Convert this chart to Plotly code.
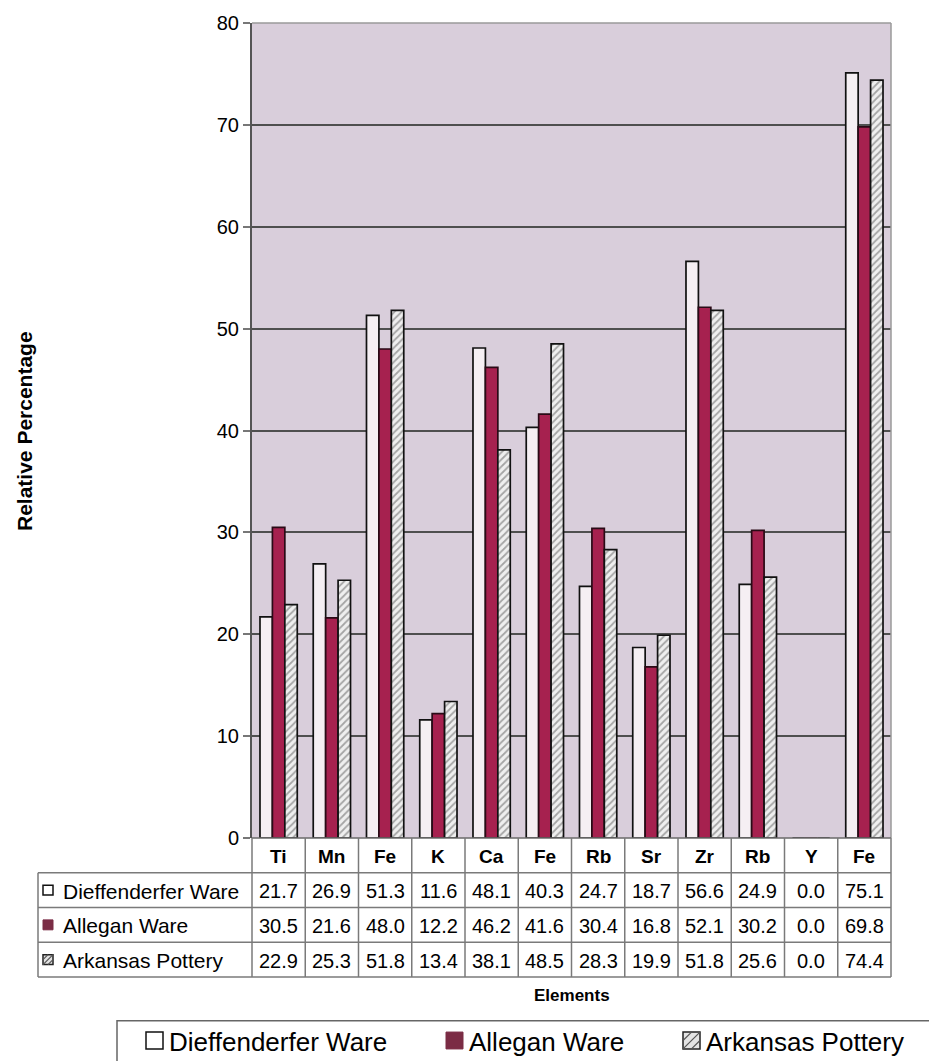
import plotly.graph_objects as go

# Element categories (Fe and Rb appear more than once) and relative percentages
elements = ["Ti", "Mn", "Fe", "K", "Ca", "Fe", "Rb", "Sr", "Zr", "Rb", "Y", "Fe"]
dieffenderfer = [21.7, 26.9, 51.3, 11.6, 48.1, 40.3, 24.7, 18.7, 56.6, 24.9, 0.0, 75.1]
allegan = [30.5, 21.6, 48.0, 12.2, 46.2, 41.6, 30.4, 16.8, 52.1, 30.2, 0.0, 69.8]
arkansas = [22.9, 25.3, 51.8, 13.4, 38.1, 48.5, 28.3, 19.9, 51.8, 25.6, 0.0, 74.4]
series_names = ["Dieffenderfer Ware", "Allegan Ware", "Arkansas Pottery"]
y_ticks = [0, 10, 20, 30, 40, 50, 60, 70, 80]

W, H = 929, 1061
ML, MR, MT, MB = 252, 38, 17, 223
PW, PH = W - ML - MR, H - MT - MB
FONT = "Liberation Sans, Arial, sans-serif"

BG = "#d9cedb"
CRIMSON = "#a6214f"
MAROON = "#7b2c45"
WHITE_BAR = "#f5eff3"
GRID = "#4f4f4f"
TABLE_LINE = "#7a7a7a"
INK = "#000000"

x_idx = list(range(len(elements)))
x_min, x_max = -0.5, len(elements) - 0.5


def px_x(p):
    """Horizontal pixel position -> paper coordinate."""
    return (p - ML) / PW


def px_y(p):
    """Vertical pixel position (from top) -> paper coordinate."""
    return (H - MB - p) / PH


def cat_x(v):
    """Category axis value -> paper coordinate."""
    return (v - x_min) / (x_max - x_min)


def label(x, y, text, size, xanchor="center", **kw):
    return dict(x=x, y=y, xref="paper", yref="paper", text=text, showarrow=False,
                xanchor=xanchor, yanchor="middle",
                font=dict(family=FONT, size=size, color=INK), **kw)


fig = go.Figure()
fig.add_bar(x=x_idx, y=dieffenderfer, name=series_names[0],
            marker=dict(color=WHITE_BAR, line=dict(color="#111", width=1.7)))
fig.add_bar(x=x_idx, y=allegan, name=series_names[1],
            marker=dict(color=CRIMSON, line=dict(color="#2a0a16", width=1.7)))
fig.add_bar(x=x_idx, y=arkansas, name=series_names[2],
            marker=dict(color="#ececec", line=dict(color="#111", width=1.7),
                        pattern=dict(shape="/", fgcolor="#5a5a5a", bgcolor="#efefef",
                                     size=5, solidity=0.35)))

shapes = []
annotations = []

# plot frame: light top/right border
shapes.append(dict(type="line", xref="paper", yref="paper", x0=0, x1=1, y0=1, y1=1,
                   line=dict(color="#9a9a9a", width=1.5)))
shapes.append(dict(type="line", xref="paper", yref="paper", x0=1, x1=1, y0=0, y1=1,
                   line=dict(color="#9a9a9a", width=1.5)))

# data table below the axis
row_edges = [838, 873, 908, 943, 978]
label_left = 38
shapes.append(dict(type="line", xref="paper", yref="paper", x0=0, x1=1,
                   y0=px_y(row_edges[0]), y1=px_y(row_edges[0]),
                   line=dict(color="#6a6a6a", width=1.5)))
for r in row_edges[1:]:
    shapes.append(dict(type="line", xref="paper", yref="paper",
                       x0=px_x(label_left), x1=1, y0=px_y(r), y1=px_y(r),
                       line=dict(color=TABLE_LINE, width=1.5)))
for i in range(len(elements) + 1):
    xb = cat_x(i - 0.5)
    shapes.append(dict(type="line", xref="paper", yref="paper", x0=xb, x1=xb,
                       y0=px_y(row_edges[0]), y1=px_y(row_edges[-1]),
                       line=dict(color=TABLE_LINE, width=1.5)))
shapes.append(dict(type="line", xref="paper", yref="paper",
                   x0=px_x(label_left), x1=px_x(label_left),
                   y0=px_y(row_edges[1]), y1=px_y(row_edges[-1]),
                   line=dict(color=TABLE_LINE, width=1.5)))

# header row: element names
hdr_y = px_y((row_edges[0] + row_edges[1]) / 2 + 1)
for i, el in enumerate(elements):
    annotations.append(label(cat_x(i), hdr_y, f"<b>{el}</b>", 19))

key_styles = [
    dict(fillcolor="#ffffff", line=dict(color="#111", width=1.5)),
    dict(fillcolor=MAROON, line=dict(color=MAROON, width=1)),
    dict(fillcolor="#e4e4e4", line=dict(color="#222", width=1.5)),
]


def add_key(k, left, cy, size):
    """Series key square; the hatched series gets diagonal strokes."""
    x0, x1 = px_x(left), px_x(left + size)
    y0, y1 = px_y(cy + size / 2), px_y(cy - size / 2)
    shapes.append(dict(type="rect", xref="paper", yref="paper",
                       x0=x0, x1=x1, y0=y0, y1=y1, **key_styles[k]))
    if k == 2:
        for t in (-0.5, 0.0, 0.5):
            ax, ay = max(0.0, t), max(0.0, -t)
            bx, by = min(1.0, 1 + t), min(1.0, 1 - t)
            shapes.append(dict(type="line", xref="paper", yref="paper",
                               x0=x0 + ax * (x1 - x0), y0=y0 + ay * (y1 - y0),
                               x1=x0 + bx * (x1 - x0), y1=y0 + by * (y1 - y0),
                               line=dict(color="#555", width=1.2)))


# series rows
for r, (name, vals) in enumerate(zip(series_names, [dieffenderfer, allegan, arkansas])):
    top, bot = row_edges[r + 1], row_edges[r + 2]
    cy = (top + bot) / 2
    add_key(r, 43, cy, 10)
    annotations.append(label(px_x(61), px_y(cy + 1), name, 21, xanchor="left"))
    for i, v in enumerate(vals):
        annotations.append(label(cat_x(i), px_y(cy + 1), f"{v:.1f}", 20))

# axis titles
annotations.append(label(cat_x((x_min + x_max) / 2), px_y(997), "<b>Elements</b>", 17))
annotations.append(label(px_x(25), px_y(428), "<b>Relative Percentage</b>", 21, textangle=-90))

# legend box along the bottom
shapes.append(dict(type="rect", xref="paper", yref="paper",
                   x0=px_x(117), x1=px_x(W + 20), y0=px_y(H + 20), y1=px_y(1022),
                   line=dict(color="#666", width=1.5), fillcolor="rgba(0,0,0,0)"))
legend_items = [(146, series_names[0]), (446, series_names[1]), (683, series_names[2])]
leg_cy = 1042
for k, (lx, name) in enumerate(legend_items):
    add_key(k, lx, leg_cy, 17)
    annotations.append(label(px_x(lx + 21), px_y(leg_cy + 1), name, 26, xanchor="left"))

fig.update_layout(
    width=W, height=H,
    margin=dict(l=ML, r=MR, t=MT, b=MB),
    paper_bgcolor="white",
    plot_bgcolor=BG,
    barmode="group", bargap=0.3, bargroupgap=0,
    showlegend=False,
    shapes=shapes,
    annotations=annotations,
    xaxis=dict(range=[x_min, x_max], showticklabels=False, ticks="",
               showgrid=False, zeroline=False, showline=False),
    yaxis=dict(range=[0, 80], tickvals=y_ticks, ticks="outside", ticklen=7,
               tickcolor="#777", tickwidth=1.5,
               tickfont=dict(family=FONT, size=20, color=INK),
               showgrid=True, gridcolor=GRID, gridwidth=1.5,
               zeroline=False, showline=True, linecolor="#555", linewidth=2),
)

fig.write_html("out.html")
